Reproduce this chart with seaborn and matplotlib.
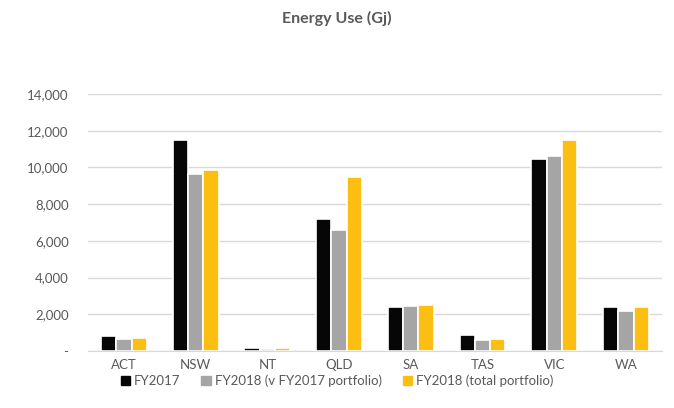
import pandas as pd
import matplotlib.pyplot as plt
import seaborn as sns
from matplotlib.ticker import FuncFormatter

states = ['ACT', 'NSW', 'NT', 'QLD', 'SA', 'TAS', 'VIC', 'WA']
series_names = ['FY2017', 'FY2018 (v FY2017 portfolio)', 'FY2018 (total portfolio)']
fy2017 = [800, 11470, 145, 7170, 2420, 890, 10480, 2420]
fy2018_v2017 = [680, 9630, 125, 6590, 2460, 580, 10610, 2200]
fy2018_total = [730, 9870, 180, 9500, 2490, 640, 11470, 2420]
colors = ['#060606', '#a5a5a5', '#fcbe11']

df = pd.DataFrame({
    'state': states * 3,
    'series': [series_names[0]] * 8 + [series_names[1]] * 8 + [series_names[2]] * 8,
    'value': fy2017 + fy2018_v2017 + fy2018_total,
})

sns.set_style('white')
plt.rcParams['font.family'] = ['Lato', 'DejaVu Sans']
text_col = '#595959'

fig = plt.figure(figsize=(6.74, 4.08), dpi=100)
ax = fig.add_axes([0.1306, 0.1397, 0.8514, 0.63])

sns.barplot(data=df, x='state', y='value', hue='series', palette=colors, saturation=1,
            width=0.64, edgecolor='white', linewidth=1.2, ax=ax, legend=False)

ax.set_ylim(0, 14000)
ax.set_yticks(range(0, 14001, 2000))
ax.yaxis.set_major_formatter(FuncFormatter(lambda v, p: '-' if v == 0 else f'{int(v):,}'))
ax.grid(axis='y', color='#d9d9d9', linewidth=1)
ax.set_axisbelow(True)
for s in ['top', 'right', 'left']:
    ax.spines[s].set_visible(False)
ax.spines['bottom'].set_color('#d9d9d9')
ax.tick_params(axis='both', length=0, labelsize=9.5, labelcolor=text_col)
ax.tick_params(axis='y', pad=14)
ax.tick_params(axis='x', pad=6)
ax.set_xlabel('')
ax.set_ylabel('')
ax.set_xlim(-0.5, 7.5)

fig.text(0.5, 0.955, 'Energy Use (Gj)', ha='center', va='center',
         fontsize=11.5, fontweight='bold', color=text_col)

handles = [plt.Rectangle((0, 0), 1, 1, color=c) for c in colors]
fig.legend(handles, series_names, loc='center', bbox_to_anchor=(0.5, 0.066),
           ncol=3, frameon=False, fontsize=9.5, handlelength=0.7, handleheight=0.7,
           handletextpad=0.3, columnspacing=1.6, labelcolor=text_col)

fig.savefig('out.png', dpi=100)
plt.close(fig)
